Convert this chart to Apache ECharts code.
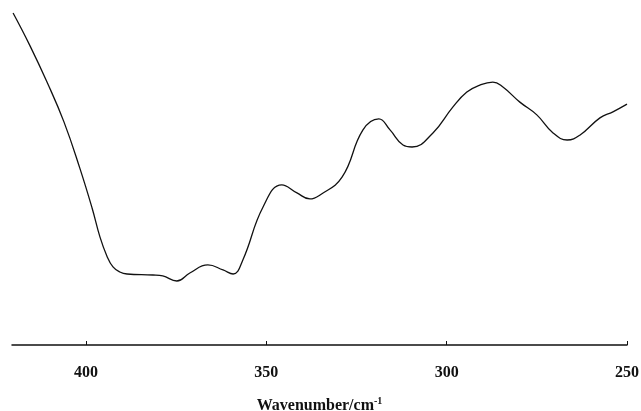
<!DOCTYPE html>
<html>
<head>
<meta charset="utf-8" />
<title>Spectrum</title>
<script src="https://cdn.jsdelivr.net/npm/echarts@6/dist/echarts.min.js"></script>
<style>
  html, body { margin: 0; padding: 0; background: #fff; }
  #chart { width: 641px; height: 411px; }
</style>
</head>
<body>
<div id="chart"></div>
<script>
// wavenumbers (cm-1) and relative intensity
var wavenumber = [420.2, 415.5, 410.8, 406.1, 401.7, 398.3, 396.1, 394.2, 392.5, 390.6, 388.6, 381.4, 378.7, 374.8,
  371.2, 366.2, 362.0, 359.2, 356.5, 350.9, 345.7, 341.5, 337.9, 335.1, 329.0, 323.2, 318.8, 315.7, 312.1,
  309.6, 303.8, 298.3, 294.4, 290.8, 287.2, 284.4, 279.7, 275.0, 270.5, 266.6, 263.0, 257.5, 253.9, 250.0];
var intensity = [99.1, 89.3, 78.5, 66.6, 52.8, 40.9, 32.2, 26.6, 23.3, 21.8, 21.2, 20.9, 20.6, 19.1,
  21.5, 23.9, 22.4, 21.2, 25.4, 41.2, 47.8, 45.4, 43.6, 44.8, 50.1, 64.2, 67.5, 64.2, 59.7,
  59.1, 63.3, 71.0, 75.5, 77.6, 78.5, 77.0, 72.5, 68.7, 63.3, 61.2, 62.7, 67.8, 69.6, 71.9];
var xTicks = [250, 300, 350, 400];

var chart = echarts.init(document.getElementById('chart'));
var font = '"Liberation Serif", "DejaVu Serif", serif';

var points = wavenumber.map(function (w, i) { return [w, intensity[i]]; });

chart.setOption({
  animation: false,
  grid: { left: 12, right: 14, top: 10, bottom: 66, containLabel: false, outerBoundsMode: 'none' },
  xAxis: {
    type: 'value',
    inverse: true,
    min: 250,
    max: 420.5,
    interval: 50,
    axisLine: { show: true, lineStyle: { color: '#111', width: 1.5 } },
    axisTick: { show: true, inside: true, length: 4, lineStyle: { color: '#111' } },
    splitLine: { show: false },
    axisLabel: {
      showMaxLabel: false,
      margin: 20,
      color: '#111',
      fontFamily: font,
      fontWeight: 'bold',
      fontSize: 16,
      formatter: function (v) { return xTicks.indexOf(v) >= 0 ? String(v) : ''; }
    },
    name: '{a|Wavenumber/cm}{b|-1}',
    nameLocation: 'middle',
    nameGap: 51,
    nameTextStyle: {
      rich: {
        a: { fontFamily: font, fontWeight: 'bold', fontSize: 16, color: '#111' },
        b: { fontFamily: font, fontWeight: 'bold', fontSize: 10, color: '#111', verticalAlign: 'top', padding: [0, 0, 9, 0] }
      }
    }
  },
  yAxis: {
    type: 'value',
    min: 0,
    max: 100,
    show: false
  },
  series: [{
    type: 'line',
    data: points,
    smooth: 0.45,
    showSymbol: false,
    lineStyle: { color: '#111', width: 1.3 }
  }]
});
</script>
</body>
</html>
